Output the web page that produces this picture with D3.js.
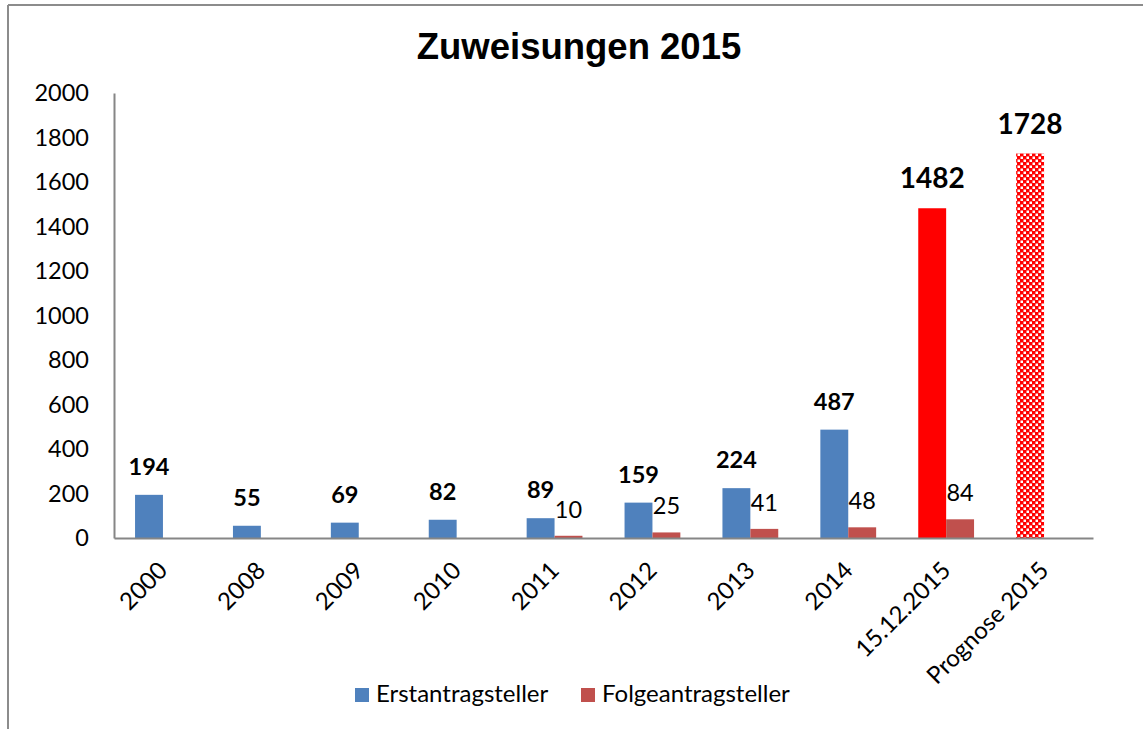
<!DOCTYPE html>
<html>
<head>
<meta charset="utf-8">
<script src="https://cdn.jsdelivr.net/npm/d3@7"></script>
<style>
  html, body { margin: 0; padding: 0; background: #fff; }
  svg { display: block; }
</style>
</head>
<body>
<svg id="chart" width="1143" height="729"></svg>
<script>
const categories = ["2000", "2008", "2009", "2010", "2011", "2012", "2013", "2014", "15.12.2015", "Prognose 2015"];
const erstantrag = [194, 55, 69, 82, 89, 159, 224, 487, 1482, 1728];
const folgeantrag = [null, null, null, null, 10, 25, 41, 48, 84, null];
const seriesNames = ["Erstantragsteller", "Folgeantragsteller"];
const yTicks = [0, 200, 400, 600, 800, 1000, 1200, 1400, 1600, 1800, 2000];
const title = "Zuweisungen 2015";

const FONT = "Lato, 'Open Sans', sans-serif";
const blue = "#4F81BD", red = "#C0504D", bright = "#FF0000";

const svg = d3.select("#chart");
const W = 1143, H = 729;
const m = { left: 114, right: 50, top: 93, bottom: 191 };

// chart border (top and left visible)
svg.append("line").attr("x1", 8).attr("x2", W).attr("y1", 5).attr("y2", 5)
  .attr("stroke", "#8c8c8c").attr("stroke-width", 2);
svg.append("line").attr("x1", 8).attr("x2", 8).attr("y1", 5).attr("y2", H)
  .attr("stroke", "#8c8c8c").attr("stroke-width", 2);

// pattern for forecast bar
const defs = svg.append("defs");
const pat = defs.append("pattern").attr("id", "checker")
  .attr("patternUnits", "userSpaceOnUse").attr("width", 6).attr("height", 6);
pat.append("rect").attr("width", 6).attr("height", 6).attr("fill", bright);
pat.append("rect").attr("x", 0.5).attr("y", 0.5).attr("width", 2.5).attr("height", 2.5).attr("fill", "#fff");
pat.append("rect").attr("x", 3.5).attr("y", 3.5).attr("width", 2.5).attr("height", 2.5).attr("fill", "#fff");

const x = d3.scaleBand().domain(categories).range([m.left, 1093]).paddingInner(0.43).paddingOuter(0.215);
const sub = d3.scaleBand().domain([0, 1]).range([0, x.bandwidth()]);
const y = d3.scaleLinear().domain([0, 2000]).range([538, 93]);

// title
svg.append("text").attr("x", 579).attr("y", 59).attr("text-anchor", "middle")
  .attr("font-family", "Arial, 'Liberation Sans', sans-serif").attr("font-weight", "bold")
  .attr("font-size", 36.5).text(title);

// y axis
const yAxis = d3.axisLeft(y).tickValues(yTicks).tickSize(0).tickPadding(25).tickFormat(d3.format("d"));
const gy = svg.append("g").attr("transform", `translate(${m.left},0)`).call(yAxis);
gy.select(".domain").attr("stroke", "#868686").attr("stroke-width", 2);
gy.selectAll("text").attr("font-family", FONT).attr("font-size", 23.5).attr("fill", "#000");

// bars
const g = svg.append("g");
categories.forEach((c, i) => {
  const v = erstantrag[i];
  let fill = blue;
  if (c === "15.12.2015") fill = bright;
  if (c === "Prognose 2015") fill = "url(#checker)";
  g.append("rect").attr("x", x(c) + sub(0)).attr("y", y(v))
    .attr("width", sub.bandwidth()).attr("height", y(0) - y(v)).attr("fill", fill);
  const big = (c === "15.12.2015" || c === "Prognose 2015");
  g.append("text").attr("x", x(c) + sub(0) + sub.bandwidth() / 2).attr("y", y(v) - 20)
    .attr("text-anchor", "middle").attr("font-family", FONT).attr("font-weight", "bold")
    .attr("font-size", big ? 28 : 23.5).text(v);
  const f = folgeantrag[i];
  if (f != null) {
    g.append("rect").attr("x", x(c) + sub(1)).attr("y", y(f))
      .attr("width", sub.bandwidth()).attr("height", y(0) - y(f)).attr("fill", red);
    g.append("text").attr("x", x(c) + sub(1) + sub.bandwidth() / 2).attr("y", y(f) - 18)
      .attr("text-anchor", "middle").attr("font-family", FONT)
      .attr("font-size", 23.5).text(f);
  }
});

// x axis
const xAxis = d3.axisBottom(x).tickSize(0).tickFormat(d => d);
const gx = svg.append("g").attr("transform", `translate(0,${y(0)})`).call(xAxis);
gx.select(".domain").attr("stroke", "#868686").attr("stroke-width", 2);
gx.selectAll(".tick text")
  .attr("font-family", FONT).attr("font-size", 24).attr("fill", "#000")
  .attr("text-anchor", "end").attr("dy", null).attr("y", null)
  .attr("transform", "translate(6,34) rotate(-45)");

// legend
const legend = svg.append("g");
const lx = [355, 581];
seriesNames.forEach((s, i) => {
  legend.append("rect").attr("x", lx[i]).attr("y", 688).attr("width", 14).attr("height", 14)
    .attr("fill", i === 0 ? blue : red);
  legend.append("text").attr("x", lx[i] + 21).attr("y", 702)
    .attr("font-family", FONT).attr("font-size", 24).text(s);
});
</script>
</body>
</html>
